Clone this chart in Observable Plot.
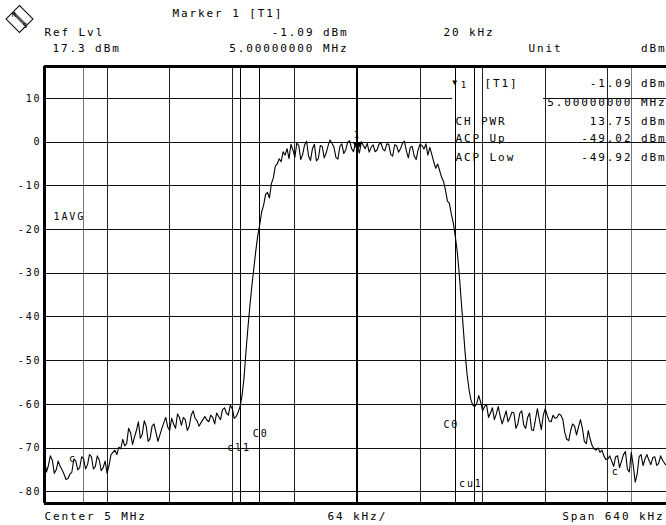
<!DOCTYPE html>
<html><head><meta charset="utf-8">
<script src="https://cdn.jsdelivr.net/npm/d3@7"></script>
<script src="https://cdn.jsdelivr.net/npm/@observablehq/plot@0.6"></script>
<style>
body{margin:0;background:#fff;}
svg{display:block;}
svg text{letter-spacing:1.9px;}
svg line{shape-rendering:crispEdges;}
</style></head><body><div id="chart"></div>
<script>
// Trace sweep points: [frequency offset from centre (kHz), level (dBm)]
const tracePoints = [
[-320,-72.5],[-318,-75.5],[-316,-74.0],[-314,-71.8],[-312,-72.8],[-310,-75.8],[-308,-75.0],[-306,-73.0],[-304,-74.2],[-302,-75.0],
[-300,-76.0],[-298,-77.2],[-296,-77.0],[-294,-76.0],[-292,-75.5],[-290,-72.5],[-288,-73.0],[-286,-75.0],[-284,-74.5],[-282,-72.0],
[-280,-72.5],[-278,-74.8],[-276,-73.8],[-274,-71.5],[-272,-72.0],[-270,-74.8],[-268,-74.2],[-266,-71.8],[-264,-72.8],[-262,-75.2],
[-260,-74.5],[-258,-73.0],[-256,-75.8],[-254,-74.0],[-252,-71.5],[-250,-71.0],[-248,-70.5],[-246,-71.5],[-244,-69.8],[-242,-70.2],
[-240,-68.0],[-238,-69.5],[-236,-69.0],[-234,-65.5],[-232,-66.5],[-230,-69.2],[-228,-67.5],[-226,-66.0],[-224,-64.0],[-222,-67.8],
[-220,-66.8],[-218,-63.8],[-216,-65.0],[-214,-68.5],[-212,-67.8],[-210,-65.0],[-208,-64.5],[-206,-66.5],[-204,-68.5],[-202,-67.0],
[-200,-65.5],[-198,-64.2],[-196,-63.0],[-194,-65.2],[-192,-66.0],[-190,-63.2],[-188,-64.5],[-186,-65.5],[-184,-62.2],[-182,-63.0],
[-180,-64.8],[-178,-63.0],[-176,-63.5],[-174,-66.0],[-172,-65.0],[-170,-62.5],[-168,-61.5],[-166,-63.2],[-164,-63.8],[-162,-65.0],
[-160,-64.2],[-158,-63.5],[-156,-62.8],[-154,-63.6],[-152,-64.0],[-150,-62.5],[-148,-63.0],[-146,-64.5],[-144,-62.0],[-142,-62.8],
[-140,-63.5],[-138,-61.2],[-136,-60.8],[-134,-62.0],[-132,-62.5],[-130,-60.2],[-128,-61.0],[-126,-63.2],[-124,-62.8],[-122,-61.8],
[-120,-60.5],[-118,-58.0],[-116,-54.0],[-114,-48.0],[-112,-42.5],[-110,-37.5],[-108,-33.0],[-106,-29.0],[-104,-25.0],[-102,-21.5],
[-100,-19.0],[-98,-16.0],[-96,-14.5],[-94,-12.0],[-92,-11.5],[-90,-12.8],[-88,-9.5],[-86,-8.2],[-84,-5.5],[-82,-5.0],
[-80,-3.8],[-78,-4.5],[-76,-2.2],[-74,-3.0],[-72,-1.5],[-70,-3.8],[-68,-0.5],[-66,-1.8],[-64,-3.5],[-62,-0.2],
[-60,-0.8],[-58,-4.0],[-56,-2.8],[-54,-0.6],[-52,0.2],[-50,-3.2],[-48,-4.2],[-46,-1.5],[-44,-0.5],[-42,-4.3],
[-40,-3.8],[-38,-0.8],[-36,-1.0],[-34,-3.6],[-32,-2.5],[-30,-0.8],[-28,0.5],[-26,-0.3],[-24,-1.2],[-22,-3.5],
[-20,-3.9],[-18,-1.0],[-16,-0.4],[-14,-2.6],[-12,-1.8],[-10,0.0],[-8,0.3],[-6,-1.5],[-4,-2.2],[-2,-0.2],
[0,-1.09],[2,-2.5],[4,0.1],[6,-0.8],[8,-1.5],[10,-0.3],[12,-2.3],[14,-1.2],[16,-0.6],[18,-2.2],
[20,-1.8],[22,-0.5],[24,-0.2],[26,-1.6],[28,-2.0],[30,-0.4],[32,-0.5],[34,-2.8],[36,-3.2],[38,-0.6],
[40,-0.8],[42,-2.3],[44,-1.5],[46,-0.3],[48,0.2],[50,-2.0],[52,-3.6],[54,-1.2],[56,-1.0],[58,-3.2],
[60,-4.0],[62,-1.8],[64,-0.5],[66,-0.8],[68,-1.6],[70,-0.4],[72,-3.0],[74,-1.2],[76,-2.8],[78,-4.5],
[80,-6.0],[82,-5.0],[84,-6.5],[86,-8.0],[88,-9.0],[90,-11.0],[92,-13.5],[94,-14.0],[96,-16.5],[98,-18.5],
[100,-21.5],[102,-25.0],[104,-30.0],[106,-36.0],[108,-42.0],[110,-48.0],[112,-53.0],[114,-56.5],[116,-59.0],[118,-60.2],
[120,-60.5],[122,-59.8],[124,-58.0],[126,-59.5],[128,-61.5],[130,-60.5],[132,-60.0],[134,-63.0],[136,-62.0],[138,-60.8],
[140,-63.5],[142,-62.2],[144,-60.5],[146,-62.8],[148,-64.5],[150,-63.0],[152,-61.5],[154,-64.0],[156,-63.0],[158,-61.8],
[160,-62.0],[162,-65.5],[164,-64.5],[166,-62.0],[168,-61.5],[170,-64.8],[172,-65.5],[174,-63.0],[176,-62.0],[178,-65.8],
[180,-66.0],[182,-63.5],[184,-61.0],[186,-63.5],[188,-65.8],[190,-62.5],[192,-61.0],[194,-62.5],[196,-63.8],[198,-64.0],
[200,-62.5],[202,-63.2],[204,-63.0],[206,-62.2],[208,-62.5],[210,-63.5],[212,-66.5],[214,-68.0],[216,-68.3],[218,-66.0],
[220,-64.5],[222,-65.0],[224,-67.0],[226,-65.2],[228,-63.5],[230,-65.5],[232,-68.5],[234,-69.0],[236,-66.0],[238,-68.0],
[240,-69.5],[242,-70.2],[244,-70.5],[246,-70.0],[248,-71.0],[250,-70.5],[252,-71.8],[254,-72.6],[256,-72.5],[258,-71.8],
[260,-73.0],[262,-74.2],[264,-72.0],[266,-71.8],[268,-74.5],[270,-73.0],[272,-71.5],[274,-70.8],[276,-74.8],[278,-75.5],
[280,-71.0],[282,-74.0],[284,-77.8],[286,-76.0],[288,-72.0],[290,-71.5],[292,-74.0],[294,-72.5],[296,-71.5],[298,-72.8],
[300,-73.8],[302,-72.2],[304,-72.0],[306,-74.0],[308,-73.5],[310,-71.8],[312,-72.8],[314,-73.5],[316,-74.0]
];

const refLevel = 17.3;          // Ref Lvl, dBm
const rangeDB = 100;            // 10 dB/div x 10
const spanStart = -320, spanEndVisible = 316; // kHz (Span 640 kHz)
const gridFreq = [-320,-256,-192,-128,-64,0,64,128,192,256];
const gridLevel = [10,0,-10,-20,-30,-40,-50,-60,-70,-80];
const channelFreq = [-120,-100,100,120];       // cl1, C0, C0, cu1
const adjEdgeFreq = [-280,280];
const chanLabels = [
  {f:-121, y:-70, t:"cl1"},
  {f:-99, y:-66.8, t:"C0"},
  {f:96, y:-64.6, t:"C0"},
  {f:116, y:-78.2, t:"cu1"},
  {f:-291, y:-72.4, t:"c"},
  {f:264, y:-75.4, t:"c"}
];
const markerFreq = [0], markerLevel = [-1.09];

const yBottom = refLevel - rangeDB;
const trace = tracePoints.map(([f,v])=>({f, v}));
const markers = markerFreq.map((f,i)=>({f, v:markerLevel[i]}));

function lab(text, x, y, anchor="start", size=11) {
  return Plot.text([text], {frameAnchor:"top-left", dx:x-44, dy:y-66, text:d=>d,
    textAnchor:anchor, lineAnchor:"middle", fontSize:size, fill:"#000"});
}

const chart = Plot.plot({
  width:666, height:525,
  marginTop:66, marginBottom:22, marginLeft:44, marginRight:0,
  style:{fontFamily:"'DejaVu Sans Mono', monospace", fontSize:"11px", background:"#fff", color:"#000"},
  x:{domain:[spanStart, spanEndVisible], axis:null},
  y:{domain:[yBottom, refLevel], axis:null},
  marks:[
    Plot.ruleX(gridFreq, {stroke:"#222", strokeWidth:1}),
    Plot.ruleX([0], {stroke:"#000", strokeWidth:2}),
    Plot.ruleX(adjEdgeFreq, {stroke:"#777", strokeWidth:1}),
    Plot.ruleX(channelFreq, {stroke:"#000", strokeWidth:1}),
    Plot.ruleY(gridLevel.filter(d=>d!==10), {stroke:"#111", strokeWidth:1}),
    Plot.ruleY([10], {x1:spanStart, x2:97, stroke:"#111", strokeWidth:1}),
    Plot.ruleY([10], {x1:190, x2:spanEndVisible, stroke:"#111", strokeWidth:1}),
    Plot.line(trace, {x:"f", y:"v", stroke:"#000", strokeWidth:1.1}),
    Plot.dot(markers, {x:"f", y:"v", symbol:"triangle", rotate:180, r:3.5, fill:"#000", dy:-2}),
    Plot.text(markers, {x:"f", y:"v", text:()=>"1", dy:-12, fontSize:9, fill:"#000"}),
    Plot.text(chanLabels, {x:"f", y:"y", text:"t", fontSize:10, fill:"#000"}),
    Plot.ruleY([refLevel], {stroke:"#000", strokeWidth:3}),
    Plot.ruleY([yBottom], {stroke:"#000", strokeWidth:3}),
    Plot.ruleX([spanStart], {stroke:"#000", strokeWidth:3}),
    Plot.axisY({ticks:gridLevel, tickSize:0, tickPadding:3, tickFormat:d=>String(d), fontSize:10, label:null}),
    // header
    lab("Marker 1 [T1]", 172, 13),
    lab("Ref Lvl", 44, 32),
    lab("-1.09 dBm", 348, 32, "end"),
    lab("20 kHz", 443, 32),
    lab("17.3 dBm", 52, 48),
    lab("5.00000000 MHz", 348, 48, "end"),
    lab("Unit", 528, 48),
    lab("dBm", 666, 48, "end"),
    // marker table
    lab("\u25BC", 455, 82, "middle", 8),
    lab("1", 464, 85, "middle", 9),
    lab("[T1]", 484, 83),
    lab("-1.09 dBm", 666, 83, "end"),
    lab("5.00000000 MHz", 666, 102, "end"),
    lab("CH PWR", 455, 121),
    lab("13.75 dBm", 666, 121, "end"),
    lab("ACP Up", 455, 138),
    lab("-49.02 dBm", 666, 138, "end"),
    lab("ACP Low", 455, 157),
    lab("-49.92 dBm", 666, 157, "end"),
    lab("1AVG", 53, 216, "start", 10),
    // footer
    lab("Center 5 MHz", 44, 516),
    lab("64 kHz/", 327, 516),
    lab("Span 640 kHz", 664, 516, "end")
  ]
});

// R&S logo
const svg = d3.select(chart);
const g = svg.append("g").attr("transform","translate(19.5,19) rotate(-45)");
g.append("rect").attr("x",-9.5).attr("y",-9.5).attr("width",19).attr("height",19).attr("fill","#fff").attr("stroke","#000").attr("stroke-width",1);
g.append("rect").attr("x",-1.5).attr("y",-9.5).attr("width",3).attr("height",19).attr("fill","#555");
svg.append("text").attr("x",14).attr("y",17).attr("font-size",7).attr("font-family","DejaVu Sans").attr("text-anchor","middle").style("letter-spacing","0").text("R");
svg.append("text").attr("x",25).attr("y",28).attr("font-size",7).attr("font-family","DejaVu Sans").attr("text-anchor","middle").style("letter-spacing","0").text("S");

document.getElementById("chart").appendChild(chart);
</script></body></html>
